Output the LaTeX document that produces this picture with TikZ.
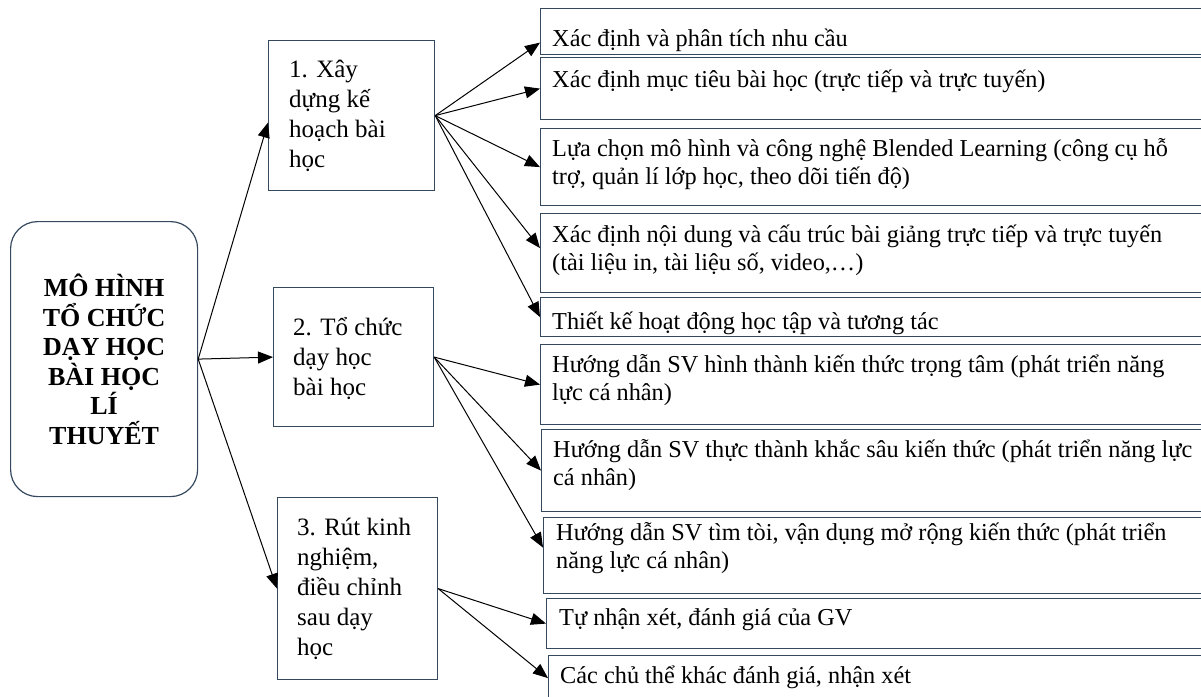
\documentclass[tikz,border=0pt]{standalone}
\usepackage{fontspec}
\setmainfont{Liberation Serif}
\usetikzlibrary{arrows.meta}
\definecolor{bord}{RGB}{52,72,94}
\begin{document}
\begin{tikzpicture}[x=1pt,y=-1pt,
  box/.style={draw=bord, line width=1.2pt, inner sep=0pt, anchor=north west},
  rtext/.style={inner sep=0pt, anchor=base west, font=\fontsize{24.3}{28}\selectfont},
  mtext/.style={inner sep=0pt, anchor=base west, font=\fontsize{25}{30}\selectfont},
  arr/.style={line width=1pt, -{Triangle[length=15pt,width=12pt]}}
]
\useasboundingbox (0,0) rectangle (1201,696);
% main
\node[box, rounded corners=27pt, minimum width=187pt, minimum height=275pt, align=center,
  font=\bfseries\fontsize{26}{29.5}\selectfont] (main) at (10,221)
  {MÔ HÌNH\\TỔ CHỨC\\DẠY HỌC\\BÀI HỌC\\LÍ\\THUYẾT};
% middle boxes
\node[box, minimum width=166pt, minimum height=150pt] (A) at (268,40) {};
\node[box, minimum width=160pt, minimum height=139pt] (B) at (273,287) {};
\node[box, minimum width=160pt, minimum height=182pt] (C) at (277,497) {};
\node[mtext] (ta) at (289,77) {\parbox[t]{140pt}{1. Xây\\dựng kế\\hoạch bài\\học}};
\node[mtext] (tb) at (293,335) {\parbox[t]{140pt}{2. Tổ chức\\dạy học\\bài học}};
\node[mtext] (tc) at (297,535) {\parbox[t]{140pt}{3. Rút kinh\\nghiệm,\\điều chỉnh\\sau dạy\\học}};
% right boxes
\node[box, minimum width=680pt, minimum height=46pt] (r1) at (540,8) {};
\node[box, minimum width=680pt, minimum height=62pt] (r2) at (540,57) {};
\node[box, minimum width=680pt, minimum height=77pt] (r3) at (540,128) {};
\node[box, minimum width=680pt, minimum height=79pt] (r4) at (540,213) {};
\node[box, minimum width=680pt, minimum height=39pt] (r5) at (540,297) {};
\node[box, minimum width=680pt, minimum height=80pt] (r6) at (540,344) {};
\node[box, minimum width=680pt, minimum height=82pt] (r7) at (541,429) {};
\node[box, minimum width=680pt, minimum height=76pt] (r8) at (543,517) {};
\node[box, minimum width=680pt, minimum height=50pt] (r9) at (546,598) {};
\node[box, minimum width=680pt, minimum height=65pt] (r10) at (548,655) {};
\node[rtext] (t1) at (552,46) {Xác định và phân tích nhu cầu};
\node[rtext] (t2) at (552,87) {Xác định mục tiêu bài học (trực tiếp và trực tuyến)};
\node[rtext] (t3) at (552,156) {\parbox[t]{640pt}{Lựa chọn mô hình và công nghệ Blended Learning (công cụ hỗ\\trợ, quản lí lớp học, theo dõi tiến độ)}};
\node[rtext] (t4) at (552,242) {\parbox[t]{640pt}{Xác định nội dung và cấu trúc bài giảng trực tiếp và trực tuyến\\(tài liệu in, tài liệu số, video,…)}};
\node[rtext] (t5) at (552,329) {Thiết kế hoạt động học tập và tương tác};
\node[rtext] (t6) at (552,372) {\parbox[t]{640pt}{Hướng dẫn SV hình thành kiến thức trọng tâm (phát triển năng\\lực cá nhân)}};
\node[rtext] (t7) at (553,457) {\parbox[t]{640pt}{Hướng dẫn SV thực thành khắc sâu kiến thức (phát triển năng lực\\cá nhân)}};
\node[rtext] (t8) at (556,540) {\parbox[t]{640pt}{Hướng dẫn SV tìm tòi, vận dụng mở rộng kiến thức (phát triển\\năng lực cá nhân)}};
\node[rtext] (t9) at (559,625) {Tự nhận xét, đánh giá của GV};
\node[rtext] (t10) at (560,683) {Các chủ thể khác đánh giá, nhận xét};
% arrows
\draw[arr] (main.east) -- ([yshift=-7pt]A.west);
\draw[arr] (main.east) -- (B.west);
\draw[arr] (main.east) -- (C.west);
\draw[arr] (A.east) -- ([yshift=-11pt]r1.west);
\draw[arr] (A.east) -- (r2.west);
\draw[arr] (A.east) -- (r3.west);
\draw[arr] (A.east) -- ([yshift=5pt]r4.west);
\draw[arr] (A.east) -- (r5.west);
\draw[arr] (B.east) -- (r6.west);
\draw[arr] (B.east) -- (r7.west);
\draw[arr] (B.east) -- ([yshift=8pt]r8.west);
\draw[arr] (C.east) -- (r9.west);
\draw[arr] (C.east) -- ([yshift=10pt]r10.west);
\end{tikzpicture}
\end{document}
